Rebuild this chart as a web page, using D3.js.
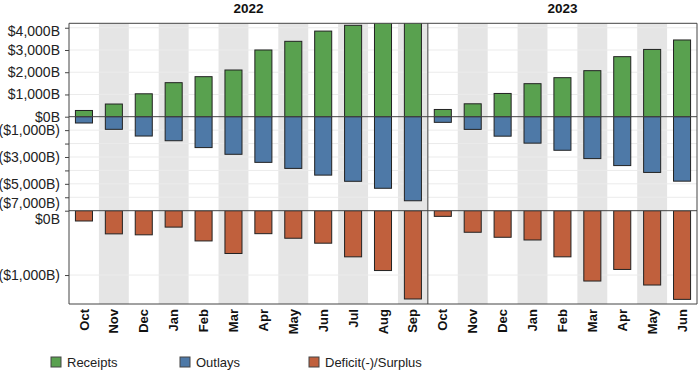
<!DOCTYPE html>
<html>
<head>
<meta charset="utf-8">
<script src="https://cdn.jsdelivr.net/npm/d3@7"></script>
<style>
  body { margin: 0; background: #fff; }
  svg { font-family: "Liberation Sans", Arial, sans-serif; }
</style>
</head>
<body>
<svg id="chart" width="700" height="370"></svg>
<script>
// fiscal years shown as panels
var years = ["2022", "2023"];
var months2022 = ["Oct", "Nov", "Dec", "Jan", "Feb", "Mar", "Apr", "May", "Jun", "Jul", "Aug", "Sep"];
var months2023 = ["Oct", "Nov", "Dec", "Jan", "Feb", "Mar", "Apr", "May", "Jun"];

// cumulative values, $B
var receipts2022 = [280, 570, 1030, 1530, 1800, 2100, 3000, 3390, 3850, 4110, 4400, 4900];
var outlays2022 = [-470, -940, -1440, -1790, -2300, -2800, -3400, -3850, -4350, -4810, -5330, -6260];
var deficit2022 = [-160, -360, -375, -255, -470, -665, -357, -428, -505, -717, -930, -1372];

var receipts2023 = [325, 580, 1045, 1485, 1755, 2070, 2700, 3025, 3450];
var outlays2023 = [-420, -945, -1450, -1970, -2500, -3120, -3640, -4150, -4800];
var deficit2023 = [-88, -335, -413, -455, -717, -1093, -913, -1155, -1378];

var topTicks = [4000, 3000, 2000, 1000, 0, -1000, -2000, -3000, -4000, -5000, -6000, -7000];
var topLabels = [4000, 3000, 2000, 1000, 0, -1000, -3000, -5000, -7000];
var botTicks = [0, -1000];

var seriesNames = ["Receipts", "Outlays", "Deficit(-)/Surplus"];
var colors = ["#59a14f", "#4e79a7", "#c0603d"];

var svg = d3.select("#chart");
var pLeft = 69, pRight = 697, pTop = 23.3, pMid = 210.7, pBottom = 304;

var panels = [
    {year: years[0], months: months2022, rec: receipts2022, out: outlays2022, def: deficit2022},
    {year: years[1], months: months2023, rec: receipts2023, out: outlays2023, def: deficit2023}
];
var total = months2022.length + months2023.length;
var colW = (pRight - pLeft) / total;

var yTop = d3.scaleLinear().domain([-7000, 0, 4200]).range([pMid, 116.7, pTop]);
var yBot = d3.scaleLinear().domain([-1450, 0]).range([pBottom, pMid]);

function fmt(v) {
    var s = "$" + d3.format(",")(Math.abs(v)) + "B";
    return v < 0 ? "(" + s + ")" : s;
}

// clip for the two panes
var defs = svg.append("defs");
defs.append("clipPath").attr("id", "clipTop")
    .append("rect").attr("x", pLeft).attr("y", pTop).attr("width", pRight - pLeft).attr("height", pMid - pTop);
defs.append("clipPath").attr("id", "clipBot")
    .append("rect").attr("x", pLeft).attr("y", pMid).attr("width", pRight - pLeft).attr("height", pBottom - pMid);

var bandLayer = svg.append("g");

// gridlines
var grid = svg.append("g");
grid.selectAll(".gt")
    .data(topTicks.filter(function(d){ return d !== 0 && d !== -7000; }))
    .enter().append("line")
    .attr("x1", pLeft).attr("x2", pRight)
    .attr("y1", function(d){ return yTop(d); })
    .attr("y2", function(d){ return yTop(d); })
    .attr("stroke", "#ebebeb");
grid.selectAll(".gb")
    .data([-1000])
    .enter().append("line")
    .attr("x1", pLeft).attr("x2", pRight)
    .attr("y1", function(d){ return yBot(d); })
    .attr("y2", function(d){ return yBot(d); })
    .attr("stroke", "#ebebeb");

var offset = 0;
panels.forEach(function(p, pi) {
    var x0 = pLeft + offset * colW;
    var x1 = x0 + p.months.length * colW;
    offset += p.months.length;

    var x = d3.scaleBand().domain(d3.range(p.months.length)).range([x0, x1]);
    var bw = x.bandwidth() * 0.57;
    var g = svg.append("g");

    // alternating shaded columns
    bandLayer.append("g").selectAll("rect")
        .data(d3.range(p.months.length).filter(function(i){ return i % 2 === 1; }))
        .enter().append("rect")
        .attr("x", function(i){ return x(i); })
        .attr("y", pTop)
        .attr("width", x.bandwidth())
        .attr("height", pBottom - pTop)
        .attr("fill", "#e5e5e5");

    // header
    svg.append("text")
        .attr("x", (x0 + x1) / 2)
        .attr("y", 13)
        .attr("text-anchor", "middle")
        .attr("font-size", "13.5px")
        .attr("font-weight", "bold")
        .attr("fill", "#111")
        .text(p.year);

    var gt = g.append("g").attr("clip-path", "url(#clipTop)");
    gt.selectAll(".rec")
        .data(p.rec)
        .enter().append("rect")
        .attr("x", function(d, i){ return x(i) + (x.bandwidth() - bw) / 2; })
        .attr("y", function(d){ return yTop(d); })
        .attr("width", bw)
        .attr("height", function(d){ return yTop(0) - yTop(d); })
        .attr("fill", colors[0])
        .attr("stroke", "#222");
    gt.selectAll(".out")
        .data(p.out)
        .enter().append("rect")
        .attr("x", function(d, i){ return x(i) + (x.bandwidth() - bw) / 2; })
        .attr("y", yTop(0))
        .attr("width", bw)
        .attr("height", function(d){ return yTop(d) - yTop(0); })
        .attr("fill", colors[1])
        .attr("stroke", "#222");

    var gb = g.append("g").attr("clip-path", "url(#clipBot)");
    gb.selectAll(".def")
        .data(p.def)
        .enter().append("rect")
        .attr("x", function(d, i){ return x(i) + (x.bandwidth() - bw) / 2; })
        .attr("y", yBot(0))
        .attr("width", bw)
        .attr("height", function(d){ return yBot(d) - yBot(0); })
        .attr("fill", colors[2])
        .attr("stroke", "#222");

    // month labels
    svg.append("g").selectAll("text")
        .data(p.months)
        .enter().append("text")
        .attr("transform", function(d, i){
            return "translate(" + (x(i) + x.bandwidth() / 2) + "," + (pBottom + 5) + ") rotate(-90)";
        })
        .attr("dy", "0.35em")
        .attr("text-anchor", "end")
        .attr("font-size", "13px")
        .attr("font-weight", "bold")
        .attr("fill", "#111")
        .text(function(d){ return d; });

    if (pi > 0) {
        svg.append("line")
            .attr("x1", x0).attr("x2", x0).attr("y1", pTop).attr("y2", pBottom)
            .attr("stroke", "#444");
    }
});

// zero line and pane borders
svg.append("line").attr("x1", pLeft).attr("x2", pRight)
    .attr("y1", yTop(0)).attr("y2", yTop(0)).attr("stroke", "#444");
[pTop, pMid, pBottom].forEach(function(yy) {
    svg.append("line").attr("x1", pLeft).attr("x2", pRight)
        .attr("y1", yy).attr("y2", yy).attr("stroke", "#444");
});
svg.append("line").attr("x1", pRight).attr("x2", pRight)
    .attr("y1", pTop).attr("y2", pBottom).attr("stroke", "#444");
svg.append("line").attr("x1", pLeft).attr("x2", pLeft)
    .attr("y1", pTop).attr("y2", pBottom).attr("stroke", "#444");

// axes, labels kept inside their pane
function drawAxis(scale, ticks, labels, y0, y1) {
    var ax = svg.append("g")
        .attr("transform", "translate(" + pLeft + ",0)")
        .call(d3.axisLeft(scale)
            .tickValues(ticks)
            .tickSize(4)
            .tickPadding(5)
            .tickFormat(function(d){ return labels.indexOf(d) >= 0 ? fmt(d) : ""; }));
    ax.select(".domain").remove();
    ax.selectAll(".tick line").attr("stroke", "#444");
    ax.selectAll(".tick text")
        .attr("font-size", "14px")
        .attr("font-family", "'Liberation Sans', Arial, sans-serif")
        .attr("fill", "#222")
        .attr("y", function(d){
            var p = scale(d);
            return Math.max(y0 + 8, Math.min(y1 - 8, p)) - p;
        });
    return ax;
}
drawAxis(yTop, topTicks, topLabels, pTop, pMid);
var axb = drawAxis(yBot, botTicks, botTicks, pMid, pBottom);
axb.selectAll(".tick line").filter(function(d){ return d === 0; }).remove();

// legend
var legend = svg.append("g").attr("transform", "translate(51,357)");
var lg = legend.selectAll("g")
    .data(seriesNames)
    .enter().append("g")
    .attr("transform", function(d, i){ return "translate(" + (i * 129) + ",0)"; });
lg.append("rect")
    .attr("width", 10).attr("height", 10)
    .attr("fill", function(d, i){ return colors[i]; })
    .attr("stroke", "#444");
lg.append("text")
    .attr("x", 16).attr("y", 5)
    .attr("dy", "0.35em")
    .attr("font-size", "13px")
    .attr("fill", "#222")
    .text(function(d){ return d; });
</script>
</body>
</html>
